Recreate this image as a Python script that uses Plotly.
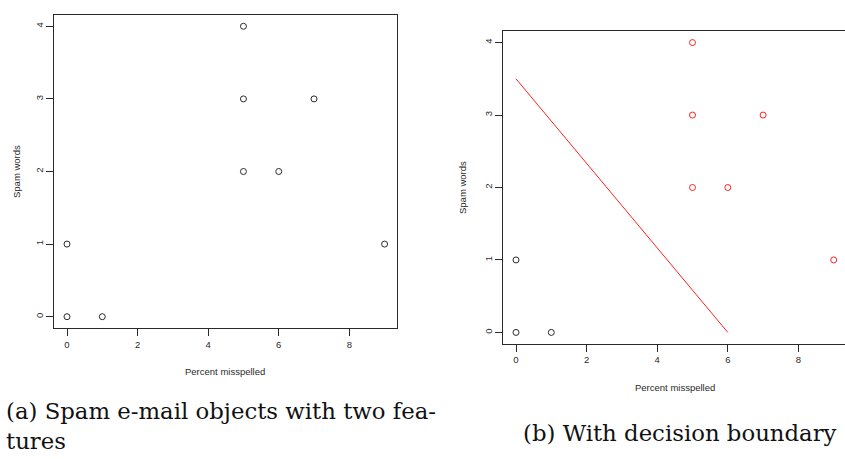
import plotly.graph_objects as go

W, H = 845, 459

# Data
pct_misspelled = [0, 0, 1, 5, 5, 5, 6, 7, 9]
spam_words = [0, 1, 0, 2, 3, 4, 2, 3, 1]
is_spam = [0, 0, 0, 1, 1, 1, 1, 1, 1]
boundary_x = [0, 6]
boundary_y = [3.5, 0]
x_ticks = [0, 2, 4, 6, 8]
y_ticks = [0, 1, 2, 3, 4]

ink = "#2a2a2a"
tick_font = dict(family="Liberation Sans, Arial, sans-serif", size=9.5, color=ink)

fig = go.Figure()

# Left panel: all points black
fig.add_trace(go.Scatter(
    x=pct_misspelled, y=spam_words, mode="markers",
    marker=dict(symbol="circle-open", size=6, color=ink, line=dict(width=1, color=ink)),
    xaxis="x", yaxis="y", showlegend=False, hoverinfo="skip"))

# Right panel: coloured by class
ham_x = [a for a, c in zip(pct_misspelled, is_spam) if c == 0]
ham_y = [b for b, c in zip(spam_words, is_spam) if c == 0]
spam_x = [a for a, c in zip(pct_misspelled, is_spam) if c == 1]
spam_y = [b for b, c in zip(spam_words, is_spam) if c == 1]

fig.add_trace(go.Scatter(
    x=ham_x, y=ham_y, mode="markers",
    marker=dict(symbol="circle-open", size=6, color=ink, line=dict(width=1, color=ink)),
    xaxis="x2", yaxis="y2", showlegend=False, hoverinfo="skip"))
fig.add_trace(go.Scatter(
    x=spam_x, y=spam_y, mode="markers",
    marker=dict(symbol="circle-open", size=6, color="#ff2020", line=dict(width=1, color="#ff2020")),
    xaxis="x2", yaxis="y2", showlegend=False, hoverinfo="skip"))
fig.add_trace(go.Scatter(
    x=boundary_x, y=boundary_y, mode="lines",
    line=dict(color="#ff2020", width=1),
    xaxis="x2", yaxis="y2", showlegend=False, hoverinfo="skip"))


def px_x(p):
    return p / W


def px_y(p):
    return 1 - p / H


axis_common = dict(
    showgrid=False, zeroline=False, showline=True, linecolor=ink, linewidth=1,
    ticks="outside", ticklen=7, tickcolor=ink, tickwidth=1, tickfont=tick_font,
    fixedrange=True,
)

fig.update_layout(
    width=W, height=H,
    margin=dict(l=0, r=0, t=0, b=0),
    paper_bgcolor="white", plot_bgcolor="white",
    xaxis=dict(domain=[px_x(54.3), px_x(397.3)], range=[-0.36, 9.36],
               tickvals=x_ticks, mirror=True, anchor="y", **axis_common),
    yaxis=dict(domain=[px_y(328.3), px_y(14.7)], range=[-0.16, 4.16],
               tickvals=y_ticks, mirror=True, tickangle=-90, anchor="x", **axis_common),
    xaxis2=dict(domain=[px_x(503.3), 1.0], range=[-0.36, (845 - 503.3) / 35.3 - 0.36],
                tickvals=x_ticks, mirror=True, anchor="y2", **axis_common),
    yaxis2=dict(domain=[px_y(344), px_y(31)], range=[-0.16, 4.16],
                tickvals=y_ticks, mirror=False, tickangle=-90, anchor="x2", **axis_common),
)

title_font = dict(family="Liberation Sans, Arial, sans-serif", size=9.5, color=ink)
annots = [
    dict(text="Percent misspelled", x=px_x(225), y=px_y(371), textangle=0),
    dict(text="Spam words", x=px_x(17), y=px_y(172), textangle=-90),
    dict(text="Percent misspelled", x=px_x(675), y=px_y(387), textangle=0),
    dict(text="Spam words", x=px_x(463), y=px_y(188), textangle=-90),
]
for a in annots:
    fig.add_annotation(xref="paper", yref="paper", showarrow=False,
                       xanchor="center", yanchor="middle", font=title_font, **a)

cap_font = dict(family="DejaVu Serif, serif", size=22.8, color="#111")
fig.add_annotation(xref="paper", yref="paper", showarrow=False,
                   text="(a) Spam e-mail objects with two fea-<br>tures",
                   x=px_x(4), y=px_y(426), xanchor="left", yanchor="middle",
                   align="left", font=cap_font)
fig.add_annotation(xref="paper", yref="paper", showarrow=False,
                   text="(b) With decision boundary",
                   x=px_x(680), y=px_y(433), xanchor="center", yanchor="middle",
                   font=cap_font)

fig.write_html("out.html")
